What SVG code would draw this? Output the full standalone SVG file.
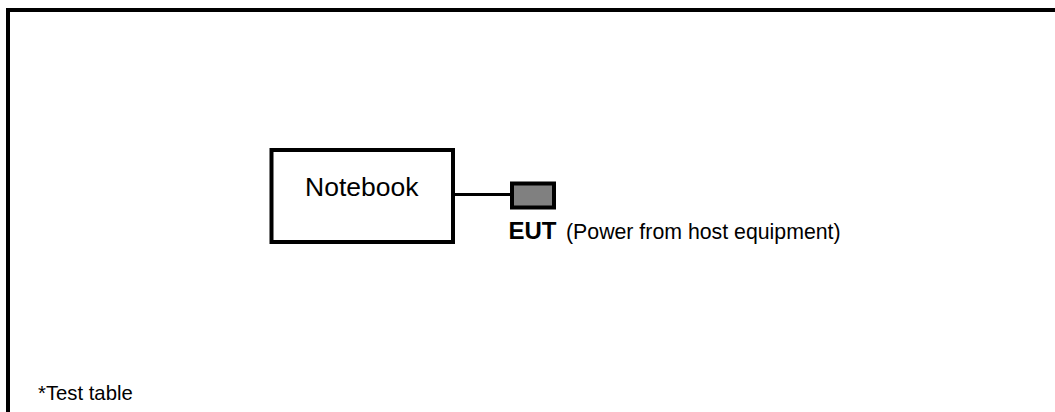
<svg xmlns="http://www.w3.org/2000/svg" width="1055" height="412" viewBox="0 0 1055 412">
<style>
text{font-family:"Liberation Sans",Arial,sans-serif;fill:#000}
.box{fill:#fff;stroke:#000;stroke-width:4}
</style>
<rect width="1055" height="412" fill="#fff"/>
<g id="table">
<path d="M8,420 V10 H1060" fill="none" stroke="#000" stroke-width="4"/>
<text x="38" y="400" font-size="20.3">*Test table</text>
</g>
<g id="connectors">
<line x1="453" y1="194.5" x2="510" y2="194.5" stroke="#000" stroke-width="3"/>
</g>
<g id="notebook">
<rect class="box" x="271.5" y="150" width="181.5" height="92"/>
<text x="305" y="196" font-size="26.5">Notebook</text>
</g>
<g id="eut">
<rect x="512" y="183.5" width="42" height="24" fill="#808080" stroke="#000" stroke-width="4"/>
<text x="508.5" y="238.5" font-size="24" font-weight="bold">EUT</text>
<text x="566" y="238.5" font-size="21.3">(Power from host equipment)</text>
</g>
</svg>
